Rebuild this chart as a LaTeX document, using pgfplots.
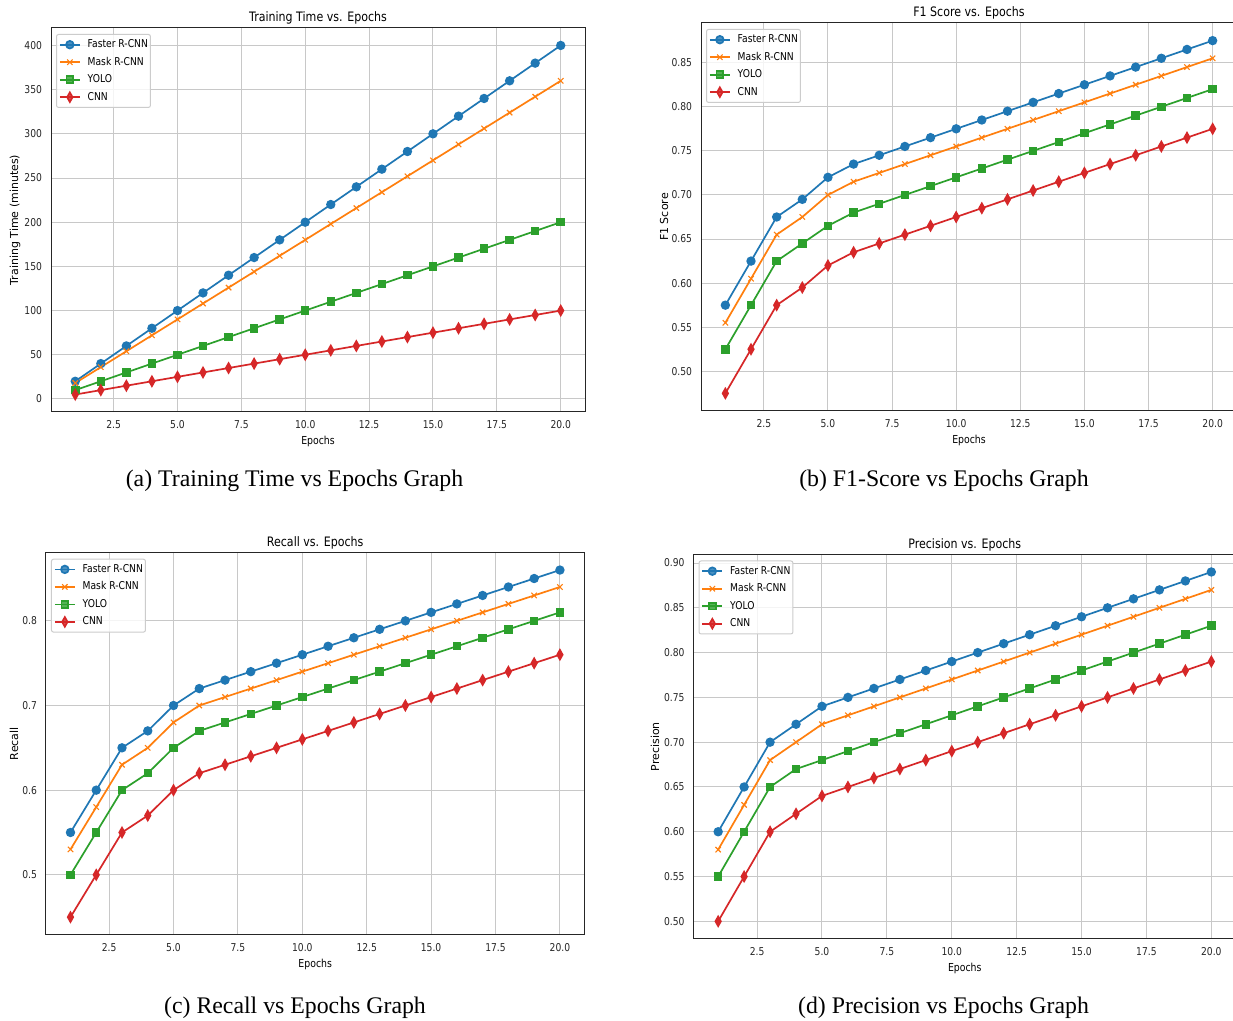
\documentclass[border=0pt]{standalone}
\usepackage{fontspec}
\usepackage{pgfplots}
\usepackage{pgfplotstable}
\pgfplotsset{compat=1.18}
\setmainfont{Liberation Serif}
\newfontfamily\axf{DejaVu Sans}[FakeStretch=0.85]
\newfontfamily\ylf{DejaVu Sans}

\definecolor{tabblue}{HTML}{1F77B4}
\definecolor{taborange}{HTML}{FF7F0E}
\definecolor{tabgreen}{HTML}{2CA02C}
\definecolor{tabred}{HTML}{D62728}
\definecolor{gridgray}{HTML}{C8C8C8}
\definecolor{leggray}{HTML}{CCCCCC}
\definecolor{spine}{HTML}{262626}

% epoch faster mask yolo cnn
\pgfplotstableread{
ep fr mr yo cn
1 20 18 10 5
2 40 36 20 10
3 60 54 30 15
4 80 72 40 20
5 100 90 50 25
6 120 108 60 30
7 140 126 70 35
8 160 144 80 40
9 180 162 90 45
10 200 180 100 50
11 220 198 110 55
12 240 216 120 60
13 260 234 130 65
14 280 252 140 70
15 300 270 150 75
16 320 288 160 80
17 340 306 170 85
18 360 324 180 90
19 380 342 190 95
20 400 360 200 100
}\timetab

\pgfplotstableread{
ep fr mr yo cn
1 0.575 0.555 0.525 0.475
2 0.625 0.605 0.575 0.525
3 0.675 0.655 0.625 0.575
4 0.695 0.675 0.645 0.595
5 0.720 0.700 0.665 0.620
6 0.735 0.715 0.680 0.635
7 0.745 0.725 0.690 0.645
8 0.755 0.735 0.700 0.655
9 0.765 0.745 0.710 0.665
10 0.775 0.755 0.720 0.675
11 0.785 0.765 0.730 0.685
12 0.795 0.775 0.740 0.695
13 0.805 0.785 0.750 0.705
14 0.815 0.795 0.760 0.715
15 0.825 0.805 0.770 0.725
16 0.835 0.815 0.780 0.735
17 0.845 0.825 0.790 0.745
18 0.855 0.835 0.800 0.755
19 0.865 0.845 0.810 0.765
20 0.875 0.855 0.820 0.775
}\fonetab

\pgfplotstableread{
ep fr mr yo cn
1 0.55 0.53 0.50 0.45
2 0.60 0.58 0.55 0.50
3 0.65 0.63 0.60 0.55
4 0.67 0.65 0.62 0.57
5 0.70 0.68 0.65 0.60
6 0.72 0.70 0.67 0.62
7 0.73 0.71 0.68 0.63
8 0.74 0.72 0.69 0.64
9 0.75 0.73 0.70 0.65
10 0.76 0.74 0.71 0.66
11 0.77 0.75 0.72 0.67
12 0.78 0.76 0.73 0.68
13 0.79 0.77 0.74 0.69
14 0.80 0.78 0.75 0.70
15 0.81 0.79 0.76 0.71
16 0.82 0.80 0.77 0.72
17 0.83 0.81 0.78 0.73
18 0.84 0.82 0.79 0.74
19 0.85 0.83 0.80 0.75
20 0.86 0.84 0.81 0.76
}\recalltab

\pgfplotstableread{
ep fr mr yo cn
1 0.60 0.58 0.55 0.50
2 0.65 0.63 0.60 0.55
3 0.70 0.68 0.65 0.60
4 0.72 0.70 0.67 0.62
5 0.74 0.72 0.68 0.64
6 0.75 0.73 0.69 0.65
7 0.76 0.74 0.70 0.66
8 0.77 0.75 0.71 0.67
9 0.78 0.76 0.72 0.68
10 0.79 0.77 0.73 0.69
11 0.80 0.78 0.74 0.70
12 0.81 0.79 0.75 0.71
13 0.82 0.80 0.76 0.72
14 0.83 0.81 0.77 0.73
15 0.84 0.82 0.78 0.74
16 0.85 0.83 0.79 0.75
17 0.86 0.84 0.80 0.76
18 0.87 0.85 0.81 0.77
19 0.88 0.86 0.82 0.78
20 0.89 0.87 0.83 0.79
}\prectab

\pgfplotsset{
  mpl/.style={
    scale only axis, anchor=north west,
    xmin=0.05, xmax=20.95,
    xtick={2.5,5,7.5,10,12.5,15,17.5,20},
    grid=major,
    major grid style={line width=0.5pt, draw=gridgray},
    axis line style={line width=0.5pt, spine},
    major tick length=0pt,
    tick pos=left,
    /pgf/number format/assume math mode=true,
    tick label style={font=\axf\fontsize{5.4}{6.4}\selectfont, inner sep=0pt, text=black!85},
    xticklabel style={/pgf/number format/fixed, /pgf/number format/fixed zerofill,
      /pgf/number format/precision=1, anchor=base, yshift=-8.3pt},
    yticklabel style={anchor=east, xshift=-4.3pt},
    scaled ticks=false,
    title style={font=\axf\fontsize{6.5}{7.5}\selectfont, at={(0.5,1)}, anchor=base, yshift=-2.9pt},
    xlabel style={font=\axf\fontsize{5.5}{6.5}\selectfont, at={(axis description cs:0.5,0)}, anchor=base, yshift=-16.3pt},
    ylabel style={font=\ylf\fontsize{5.5}{6.5}\selectfont, anchor=center},
    xlabel={Epochs},
    legend cell align=left,
    legend style={at={(0,1)}, anchor=north west, xshift=2.5pt, yshift=-3pt,
      draw=leggray, line width=0.5pt, rounded corners=1pt, fill=white, fill opacity=0.8, text opacity=1,
      font=\axf\fontsize{5.4}{6.4}\selectfont,
      inner xsep=1.25pt, inner ysep=2.4pt,
      nodes={inner sep=0pt, text height=4.2pt, text depth=1.2pt},
      row sep=3.35pt,
      /tikz/every odd column/.append style={column sep=3.5pt}},
    legend image code/.code={\draw[mark repeat=2,mark phase=2,#1] plot coordinates {(0pt,0pt) (5pt,0pt) (10pt,0pt)};},
    every axis plot/.append style={line width=0.85pt},
  },
  sfr/.style={tabblue, mark=*, mark size=1.9pt, mark options={solid, fill=tabblue}},
  smr/.style={taborange, mark=x, mark size=1.9pt, mark options={solid, line width=0.55pt}},
  syo/.style={tabgreen, mark=square*, mark size=1.7pt, mark options={solid, fill=tabgreen}},
  scn/.style={tabred, mark=diamond*, mark size=2.4pt, mark options={solid, fill=tabred, xscale=0.75}},
}

\begin{document}
\begin{tikzpicture}
\path[use as bounding box, fill=white] (0pt,0pt) rectangle (616.5pt,-510.5pt);

% (a) training time
\begin{axis}[mpl, at={(25.5pt,-14pt)}, width=267pt, height=192pt,
  ymin=-14.75, ymax=419.75, ytick={0,50,...,400},
  title={Training Time vs. Epochs},
  ylabel={Training Time (minutes)},
  ylabel style={at={(axis description cs:-0.0674,0.5)}}]
\addplot[sfr] table[x=ep,y=fr] {\timetab};
\addplot[smr] table[x=ep,y=mr] {\timetab};
\addplot[syo] table[x=ep,y=yo] {\timetab};
\addplot[scn] table[x=ep,y=cn] {\timetab};
\legend{Faster R-CNN, Mask R-CNN, YOLO, CNN}
\end{axis}

% (b) F1 score
\begin{axis}[mpl, at={(350.5pt,-11.5pt)}, width=268pt, height=194pt,
  ymin=0.455, ymax=0.895, ytick={0.50,0.55,...,0.86},
  yticklabel style={/pgf/number format/fixed, /pgf/number format/fixed zerofill, /pgf/number format/precision=2},
  title={F1 Score vs. Epochs},
  ylabel={F1 Score},
  ylabel style={at={(axis description cs:-0.069,0.5)}}]
\addplot[sfr] table[x=ep,y=fr] {\fonetab};
\addplot[smr] table[x=ep,y=mr] {\fonetab};
\addplot[syo] table[x=ep,y=yo] {\fonetab};
\addplot[scn] table[x=ep,y=cn] {\fonetab};
\legend{Faster R-CNN, Mask R-CNN, YOLO, CNN}
\end{axis}

% (c) recall
\begin{axis}[mpl, at={(23pt,-276.35pt)}, width=269.2pt, height=190.9pt,
  ymin=0.4295, ymax=0.8805, ytick={0.5,0.6,0.7,0.8},
  yticklabel style={/pgf/number format/fixed, /pgf/number format/fixed zerofill, /pgf/number format/precision=1},
  title={Recall vs. Epochs},
  ylabel={Recall},
  ylabel style={at={(axis description cs:-0.0595,0.5)}}]
\addplot[sfr] table[x=ep,y=fr] {\recalltab};
\addplot[smr] table[x=ep,y=mr] {\recalltab};
\addplot[syo] table[x=ep,y=yo] {\recalltab};
\addplot[scn] table[x=ep,y=cn] {\recalltab};
\legend{Faster R-CNN, Mask R-CNN, YOLO, CNN}
\end{axis}

% (d) precision
\begin{axis}[mpl, at={(346.75pt,-277.25pt)}, width=271.25pt, height=192.15pt,
  ymin=0.4805, ymax=0.9095, ytick={0.50,0.55,...,0.91},
  yticklabel style={/pgf/number format/fixed, /pgf/number format/fixed zerofill, /pgf/number format/precision=2},
  title={Precision vs. Epochs},
  ylabel={Precision},
  ylabel style={at={(axis description cs:-0.071,0.5)}}]
\addplot[sfr] table[x=ep,y=fr] {\prectab};
\addplot[smr] table[x=ep,y=mr] {\prectab};
\addplot[syo] table[x=ep,y=yo] {\prectab};
\addplot[scn] table[x=ep,y=cn] {\prectab};
\legend{Faster R-CNN, Mask R-CNN, YOLO, CNN}
\end{axis}

\begin{scope}[every node/.style={anchor=base, inner sep=0pt, font=\fontsize{11.9}{14.2}\selectfont}]
\node at (147.25pt,-243.35pt) {(a) Training Time vs Epochs Graph};
\node at (472pt,-243.35pt) {(b) F1-Score vs Epochs Graph};
\node at (147.5pt,-506.75pt) {(c) Recall vs Epochs Graph};
\node at (471.75pt,-506.75pt) {(d) Precision vs Epochs Graph};
\end{scope}
\end{tikzpicture}
\end{document}
